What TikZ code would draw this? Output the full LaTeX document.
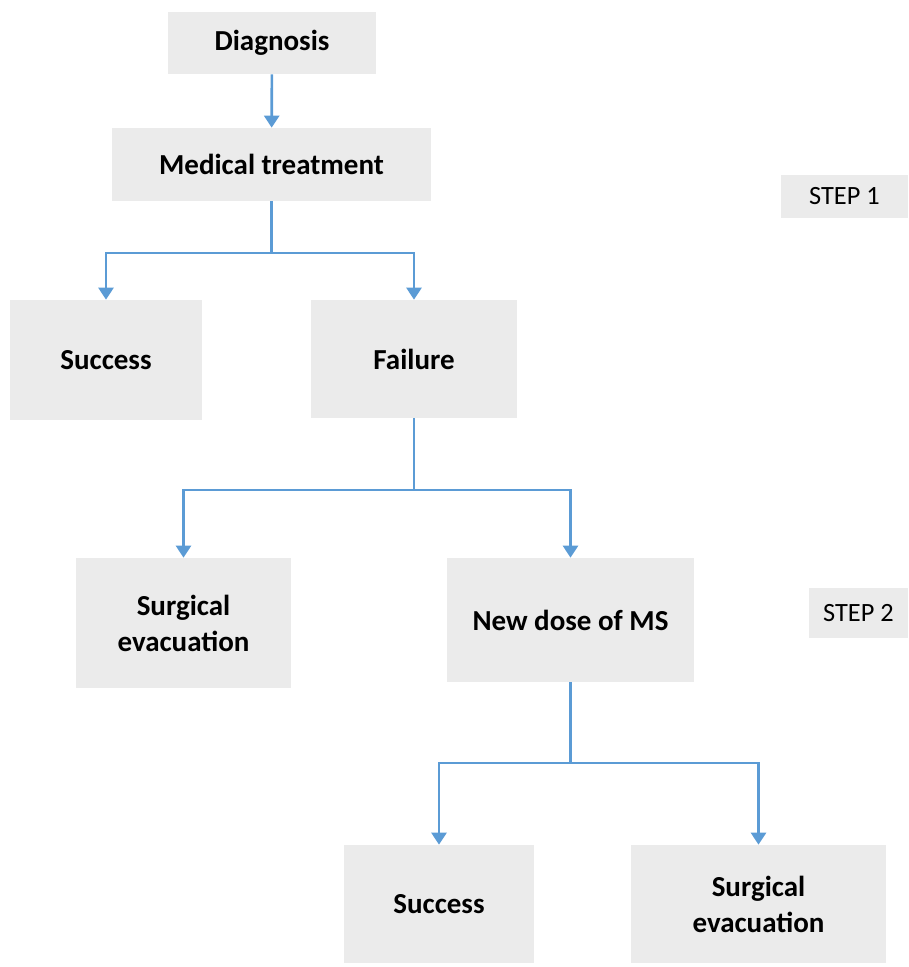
\documentclass[tikz,border=0pt]{standalone}
\usepackage{fontspec}
\setmainfont{Carlito}
\usetikzlibrary{positioning, arrows.meta}

\definecolor{boxgray}{HTML}{EBEBEB}
\definecolor{linkblue}{HTML}{5B9BD5}

\begin{document}
\begin{tikzpicture}[
    x=0.02cm, y=-0.02cm,
    % Styles
    stage_box/.style={fill=boxgray, draw=none, align=center, inner sep=2pt,
        font=\fontsize{16.5}{20.5}\selectfont\bfseries},
    step_tag/.style={fill=boxgray, draw=none, inner sep=2pt,
        font=\fontsize{15}{17}\selectfont},
    link/.style={draw=linkblue, line width=1.5pt},
    link_arrow/.style={link, -{Triangle[width=0.3cm, length=0.24cm]}}
]
\useasboundingbox (0,0) rectangle (909,967);

% 1. Diagnosis and first treatment
\node[stage_box, minimum width=4.16cm, minimum height=1.24cm] (diag) at (272,43) {Diagnosis};
\node[stage_box, minimum width=6.38cm, minimum height=1.46cm] (med) at (271.5,164.5) {Medical treatment};
\node[step_tag, minimum width=2.54cm, minimum height=0.86cm] (step1) at (844.5,196.5) {STEP 1};

% 2. Outcome of the medical treatment
\node[stage_box, minimum width=3.84cm, minimum height=2.40cm] (succ_a) at (106,360) {Success};
\node[stage_box, minimum width=4.12cm, minimum height=2.36cm] (fail) at (414,359) {Failure};

% 3. Options after failure
\node[stage_box, minimum width=4.30cm, minimum height=2.60cm] (surg_a) at (183.5,623) {Surgical\\evacuation};
\node[stage_box, minimum width=4.94cm, minimum height=2.48cm] (dose) at (570.5,620) {New dose of MS};
\node[step_tag, minimum width=1.98cm, minimum height=1.00cm] (step2) at (858.5,613) {STEP 2};

% 4. Outcome of the new dose
\node[stage_box, minimum width=3.80cm, minimum height=2.36cm] (succ_b) at (439,904) {Success};
\node[stage_box, minimum width=5.10cm, minimum height=2.36cm] (surg_b) at (758.5,904) {Surgical\\evacuation};

% Connectors
\draw[link_arrow] (diag) -- (med);

\coordinate (split_a) at (med.south |- 0,253);
\draw[link] (med.south) -- (split_a);
\draw[link_arrow] (split_a) -| (succ_a.north);
\draw[link_arrow] (split_a) -| (fail.north);

\coordinate (split_b) at (fail.south |- 0,490);
\draw[link] (fail.south) -- (split_b);
\draw[link_arrow] (split_b) -| (surg_a.north);
\draw[link_arrow] (split_b) -| (dose.north);

\coordinate (split_c) at (dose.south |- 0,763);
\draw[link] (dose.south) -- (split_c);
\draw[link_arrow] (split_c) -| (succ_b.north);
\draw[link_arrow] (split_c) -| (surg_b.north);

\end{tikzpicture}
\end{document}
